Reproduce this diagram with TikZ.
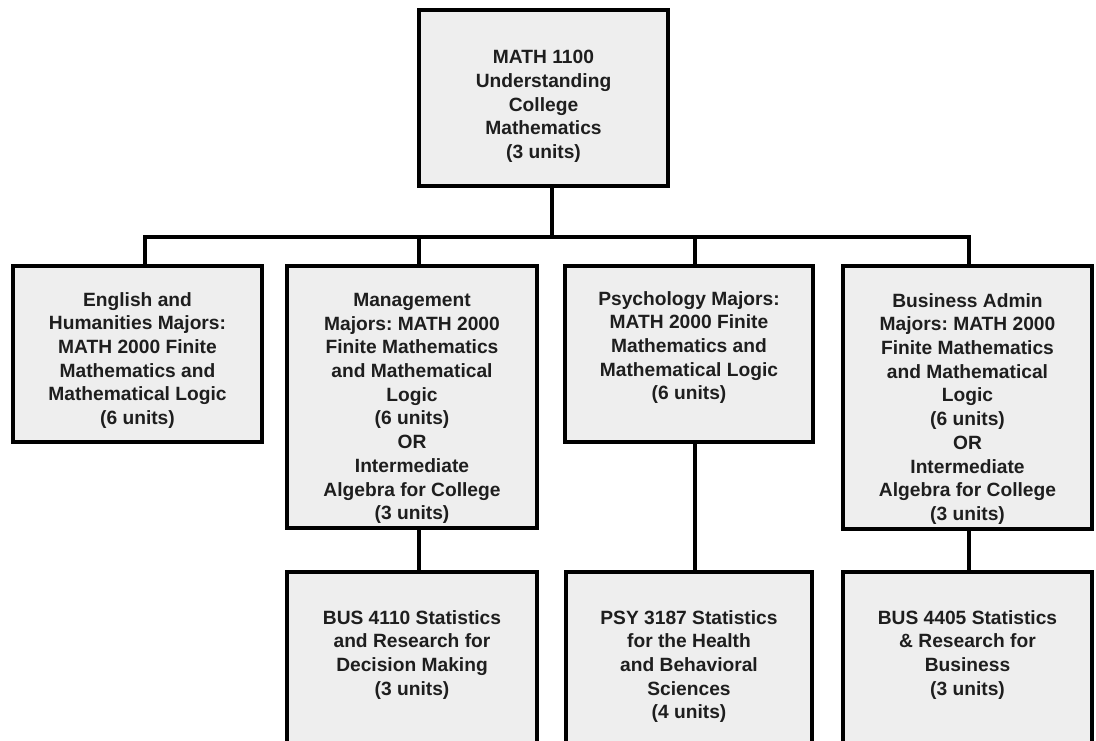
\documentclass[tikz,border=0pt]{standalone}
\usepackage{fontspec}
\setmainfont{Liberation Sans}
\frenchspacing
\definecolor{boxfill}{HTML}{EEEEEE}
\definecolor{txtcol}{HTML}{1E1E1E}
\begin{document}
\begin{tikzpicture}[x=1pt,y=-1pt,
  box/.style={draw=black,line width=3.1pt,fill=boxfill,rectangle,anchor=north west,inner sep=0pt,outer sep=0pt,minimum width=#1},
  box/.default=249pt,
  txt/.style={anchor=north,align=center,inner sep=0pt,text=txtcol,font=\fontsize{19.2}{23.7}\selectfont\bfseries},
  conn/.style={draw=black,line width=3.1pt}]
\useasboundingbox (0,0) rectangle (1096,740);
\clip (0,0) rectangle (1096,740);
\fill[white] (0,0) rectangle (1096,740);
% boxes
\node[box=249pt,minimum height=176pt] (top) at (419,10) {};
\node[box=249pt,minimum height=176pt] (e) at (13,266) {};
\node[box=250pt,minimum height=262pt] (m) at (287,266) {};
\node[box=248pt,minimum height=176pt] (p) at (565,266) {};
\node[box=249pt,minimum height=263pt] (b) at (843,266) {};
\node[box=250pt,minimum height=200pt] (s1) at (287,572) {};
\node[box=246pt,minimum height=200pt] (s2) at (566,572) {};
\node[box=249pt,minimum height=200pt] (s3) at (843,572) {};
% texts
\node[txt] (t0) at ([yshift=-40pt]top.north) {MATH 1100\\Understanding\\College\\Mathematics\\(3 units)};
\node[txt] (t1) at ([yshift=-26pt]e.north) {English and\\Humanities Majors:\\MATH 2000 Finite\\Mathematics and\\Mathematical Logic\\(6 units)};
\node[txt] (t2) at ([yshift=-27pt]m.north) {Management\\Majors: MATH 2000\\Finite Mathematics\\and Mathematical\\Logic\\(6 units)\\OR\\Intermediate\\Algebra for College\\(3 units)};
\node[txt] (t3) at ([yshift=-25pt]p.north) {Psychology Majors:\\MATH 2000 Finite\\Mathematics and\\Mathematical Logic\\(6 units)};
\node[txt] (t4) at ([yshift=-27pt]b.north) {Business Admin\\Majors: MATH 2000\\Finite Mathematics\\and Mathematical\\Logic\\(6 units)\\OR\\Intermediate\\Algebra for College\\(3 units)};
\node[txt] (t5) at ([yshift=-38pt]s1.north) {BUS 4110 Statistics\\and Research for\\Decision Making\\(3 units)};
\node[txt] (t6) at ([yshift=-38pt]s2.north) {PSY 3187 Statistics\\for the Health\\and Behavioral\\Sciences\\(4 units)};
\node[txt] (t7) at ([yshift=-38pt]s3.north) {BUS 4405 Statistics\\\& Research for\\Business\\(3 units)};
% connectors
\coordinate (busL) at (145,237);
\coordinate (busR) at (969,237);
\coordinate (dM) at (419,237);
\coordinate (dP) at (695,237);
\coordinate (dT) at (552,237);
\draw[conn] (busL |- e.north) -- (busL) -- (busR) -- (busR |- b.north);
\draw[conn] (dT |- top.south) -- (dT);
\draw[conn] (dM) -- (dM |- m.north);
\draw[conn] (dP) -- (dP |- p.north);
\draw[conn] (dM |- m.south) -- (dM |- s1.north);
\draw[conn] (dP |- p.south) -- (dP |- s2.north);
\draw[conn] (busR |- b.south) -- (busR |- s3.north);
\end{tikzpicture}
\end{document}
